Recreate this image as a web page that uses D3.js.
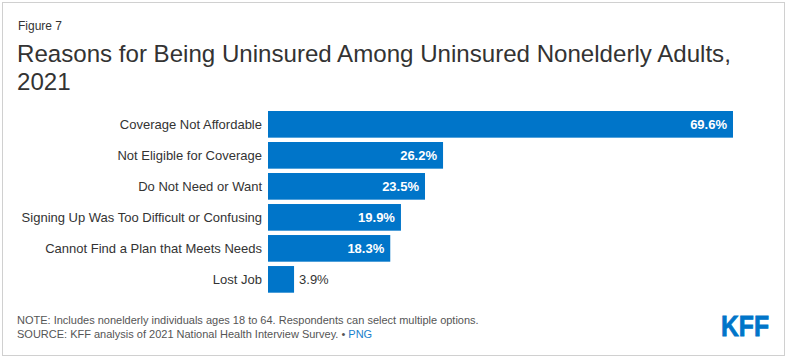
<!DOCTYPE html>
<html><head><meta charset="utf-8">
<script src="https://cdn.jsdelivr.net/npm/d3@7"></script>
<style>body{margin:0;background:#fff;font-family:Arial,"Liberation Sans",Helvetica,sans-serif}</style>
</head><body>
<svg id="c" width="786" height="359"></svg>
<script>
const categories = ["Coverage Not Affordable","Not Eligible for Coverage","Do Not Need or Want","Signing Up Was Too Difficult or Confusing","Cannot Find a Plan that Meets Needs","Lost Job"];
const values = [69.6, 26.2, 23.5, 19.9, 18.3, 3.9];
const valueLabels = ["69.6%","26.2%","23.5%","19.9%","18.3%","3.9%"];

const svg = d3.select("#c");
const font = "Arial, 'Liberation Sans', Helvetica, sans-serif";
svg.append("rect").attr("x",2.5).attr("y",2.5).attr("width",782).attr("height",353)
  .attr("fill","#fff").attr("stroke","#d0d0d0");

svg.append("text").attr("x",18).attr("y",30).attr("font-size",12).attr("fill","#333").attr("font-family",font).text("Figure 7");
svg.append("text").attr("x",17).attr("y",62).attr("font-size",24.1).attr("fill","#333").attr("font-family",font).text("Reasons for Being Uninsured Among Uninsured Nonelderly Adults,");
svg.append("text").attr("x",17).attr("y",90).attr("font-size",24.1).attr("fill","#333").attr("font-family",font).text("2021");

const x = d3.scaleLinear().domain([0, 69.6]).range([268, 733]);
const y = d3.scaleBand().domain(categories).range([111, 292.7]).paddingInner(0.14).paddingOuter(0);
const color = "#0075c9";

const g = svg.append("g");
categories.forEach((c,i)=>{
  g.append("rect").attr("x",x(0)).attr("y",y(c)).attr("width",x(values[i])-x(0)).attr("height",y.bandwidth()).attr("fill",color);
  g.append("text").attr("x",262).attr("y",y(c)+y.bandwidth()/2).attr("dy","0.35em")
    .attr("text-anchor","end").attr("font-size",13).attr("fill","#333").attr("font-family",font).text(c);
  const inside = values[i] > 10;
  g.append("text").attr("x", inside ? x(values[i])-6 : x(values[i])+5)
    .attr("y",y(c)+y.bandwidth()/2).attr("dy","0.35em")
    .attr("text-anchor", inside ? "end":"start").attr("font-size",13)
    .attr("font-weight", inside ? "bold":"normal").attr("fill", inside ? "#fff":"#333")
    .attr("font-family",font).text(valueLabels[i]);
});

svg.append("text").attr("x",17).attr("y",324).attr("font-size",11).attr("fill","#555").attr("font-family",font)
  .text("NOTE: Includes nonelderly individuals ages 18 to 64. Respondents can select multiple options.");
const s = svg.append("text").attr("x",17).attr("y",338).attr("font-size",11).attr("fill","#555").attr("font-family",font);
s.append("tspan").text("SOURCE: KFF analysis of 2021 National Health Interview Survey. • ");
s.append("tspan").attr("fill","#1a80cc").text("PNG");

svg.append("text").attr("x",721).attr("y",336).attr("font-size",29).attr("font-weight","bold")
  .attr("fill",color).attr("stroke",color).attr("stroke-width",0.8).attr("font-family",font).attr("textLength",48).attr("lengthAdjust","spacingAndGlyphs").text("KFF");
</script>
</body></html>
